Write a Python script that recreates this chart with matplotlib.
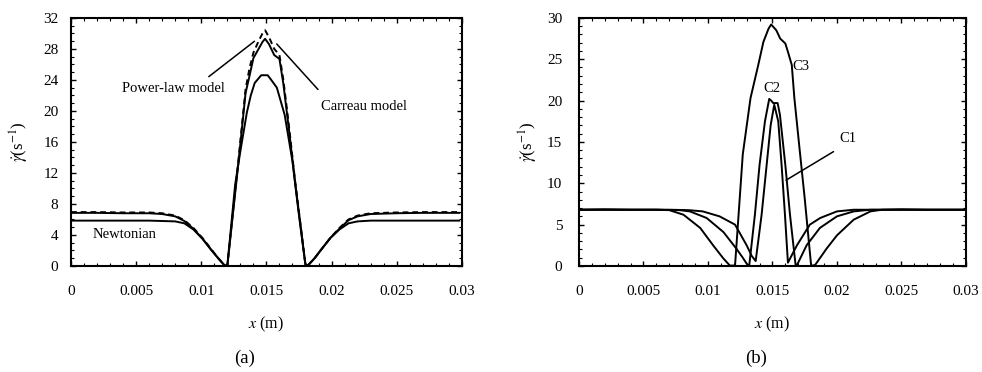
import numpy as np
import matplotlib
matplotlib.use('Agg')
import matplotlib.pyplot as plt
from matplotlib.ticker import MultipleLocator, FuncFormatter

plt.rcParams['font.family'] = ['Liberation Serif', 'DejaVu Serif']
plt.rcParams['mathtext.fontset'] = 'stix'

# ---- panel (a): three rheology models ----
a_x = [0, 0.002, 0.004, 0.006, 0.007, 0.008, 0.0087, 0.0094, 0.0101, 0.0108, 0.0113, 0.0118,
       0.0120, 0.0128, 0.0134, 0.0137, 0.0140, 0.0144, 0.0147, 0.0149, 0.0152, 0.0156, 0.0160,
       0.0163, 0.0167, 0.0172, 0.0176, 0.0180, 0.0182, 0.0187, 0.0192, 0.0199, 0.0206, 0.0213,
       0.0220, 0.0230, 0.0250, 0.0270, 0.0298]
powerlaw_y = [6.85, 6.85, 6.8, 6.8, 6.7, 6.4, 5.8, 4.8, 3.5, 2.0, 1.0, 0.05,
              0.05, 12.5, 22.3, 24.5, 26.8, 28.0, 28.9, 29.3, 28.6, 27.2, 26.7,
              23.5, 18.0, 10.8, 5.5, 0.1, 0.1, 1.0, 2.1, 3.6, 4.8, 5.9,
              6.4, 6.7, 6.8, 6.85, 6.85]
carreau_y = [6.95, 6.95, 6.9, 6.9, 6.8, 6.5, 5.9, 4.9, 3.6, 2.1, 1.0, 0.05,
             0.05, 12.8, 22.8, 25.5, 27.5, 29.0, 30.0, 30.4, 29.5, 28.0, 27.2,
             24.0, 18.5, 11.0, 5.6, 0.1, 0.1, 1.0, 2.1, 3.6, 4.9, 6.0,
             6.5, 6.8, 6.9, 6.95, 6.95]

newt_x = [0, 0.002, 0.004, 0.006, 0.007, 0.008, 0.0087, 0.0094, 0.0101, 0.0108, 0.0113, 0.0118,
          0.0120, 0.0126, 0.0130, 0.0135, 0.0138, 0.0141, 0.0146, 0.0151, 0.0155, 0.0158, 0.0164,
          0.0170, 0.0175, 0.0180, 0.0182, 0.0187, 0.0192, 0.0199, 0.0206, 0.0213, 0.0220, 0.0230,
          0.0250, 0.0270, 0.0298]
newt_y = [5.85, 5.85, 5.85, 5.85, 5.8, 5.75, 5.5, 4.7, 3.5, 2.0, 1.0, 0.05,
          0.05, 10.5, 14.8, 19.8, 22.0, 23.6, 24.6, 24.6, 23.7, 23.0, 19.5,
          13.5, 6.5, 0.1, 0.1, 1.0, 2.1, 3.6, 4.7, 5.5, 5.75, 5.85,
          5.85, 5.85, 5.85]

# ---- panel (b): cases C1, C2, C3 ----
c3_x = [0, 0.002, 0.004, 0.006, 0.007, 0.0081, 0.0094, 0.0104, 0.0112, 0.0117, 0.0121, 0.0127,
        0.0133, 0.0139, 0.0143, 0.0147, 0.0149, 0.0153, 0.0156, 0.0160, 0.0162, 0.0165, 0.0167,
        0.0171, 0.0175, 0.0180, 0.0183, 0.0192, 0.0200, 0.0213, 0.0226, 0.0235, 0.025, 0.027, 0.030]
c3_y = [6.8, 6.85, 6.8, 6.8, 6.75, 6.2, 4.6, 2.5, 0.9, 0.05, 0.05, 13.5,
        20.3, 24.3, 27.1, 28.7, 29.2, 28.5, 27.5, 26.9, 25.9, 24.3, 20.3,
        14.2, 8.2, 0.05, 0.1, 2.1, 3.7, 5.6, 6.6, 6.8, 6.85, 6.8, 6.8]

c2_x = [0, 0.003, 0.006, 0.0078, 0.0086, 0.0099, 0.0112, 0.0122, 0.0127, 0.0131, 0.0132, 0.01364,
        0.0140, 0.01442, 0.01475, 0.0149, 0.01506, 0.0154, 0.01558, 0.0160, 0.01636, 0.0168,
        0.0169, 0.01765, 0.01868, 0.0200, 0.0213, 0.0226, 0.024, 0.027, 0.030]
c2_y = [6.8, 6.8, 6.8, 6.75, 6.6, 5.8, 4.1, 2.1, 1.0, 0.05, 0.05, 6.2,
        12.2, 17.5, 20.2, 20.0, 19.7, 19.7, 18.3, 12.2, 6.2, 0.05,
        0.1, 2.5, 4.6, 6.0, 6.6, 6.8, 6.8, 6.8, 6.8]

c1_x = [0, 0.003, 0.006, 0.0071, 0.0085, 0.0096, 0.0109, 0.0121, 0.0130, 0.0134, 0.0137, 0.01416,
        0.01455, 0.01486, 0.01514, 0.01545, 0.01571, 0.01597, 0.0162, 0.0169, 0.0179, 0.0187,
        0.0200, 0.0213, 0.023, 0.027, 0.030]
c1_y = [6.8, 6.8, 6.8, 6.8, 6.75, 6.6, 6.0, 5.0, 2.5, 1.2, 0.6, 6.2,
        12.2, 17.0, 19.5, 17.5, 12.2, 6.2, 0.4, 2.5, 5.0, 5.8,
        6.6, 6.8, 6.8, 6.8, 6.8]

ylabel = r'$\dot{\gamma}$(s$^{-1}$)'
xlabel = r'$x$ (m)'


def style_axes(ax, ymax, ymajor, yminor):
    ax.set_xlim(0, 0.03)
    ax.set_ylim(0, ymax)
    ax.xaxis.set_major_locator(MultipleLocator(0.005))
    ax.xaxis.set_minor_locator(MultipleLocator(0.001))
    ax.yaxis.set_major_locator(MultipleLocator(ymajor))
    ax.yaxis.set_minor_locator(MultipleLocator(yminor))
    ax.xaxis.set_major_formatter(FuncFormatter(lambda v, p: '%g' % round(v, 4)))
    ax.tick_params(which='both', direction='in', top=True, right=True, labelsize=11)
    ax.tick_params(which='major', length=3.5, width=1)
    ax.tick_params(which='minor', length=2, width=0.8)
    ax.tick_params(axis='x', pad=14)
    for s in ax.spines.values():
        s.set_linewidth(1.5)
    ax.set_xlabel(xlabel, fontsize=11.5, labelpad=12)


fig = plt.figure(figsize=(9.82, 3.72), dpi=100)
ax1 = fig.add_axes([0.0723, 0.285, 0.398, 0.667])
ax2 = fig.add_axes([0.5896, 0.285, 0.394, 0.667])

lw = 1.4
ax1.plot(a_x, powerlaw_y, color='black', lw=lw)
ax1.plot(a_x, carreau_y, color='black', lw=lw, linestyle=(0, (3, 2)))
ax1.plot(newt_x, newt_y, color='black', lw=lw)
style_axes(ax1, 32, 4, 1)
ax1.tick_params(axis='y', pad=9)
ax1.set_ylabel(ylabel, fontsize=12, labelpad=9)

ax1.annotate('', xy=(0.01425, 29.2), xytext=(0.01041, 24.2),
             arrowprops=dict(arrowstyle='-', color='black', lw=1.1))
ax1.text(0.00786, 22.9, 'Power-law model', fontsize=10.5, ha='center', va='center')
ax1.annotate('', xy=(0.01565, 28.9), xytext=(0.0191, 22.5),
             arrowprops=dict(arrowstyle='-', color='black', lw=1.1))
ax1.text(0.02248, 20.6, 'Carreau model', fontsize=10.5, ha='center', va='center')
ax1.text(0.0041, 4.0, 'Newtonian', fontsize=10.5, ha='center', va='center')

ax2.plot(c3_x, c3_y, color='black', lw=lw)
ax2.plot(c2_x, c2_y, color='black', lw=lw)
ax2.plot(c1_x, c1_y, color='black', lw=lw)
style_axes(ax2, 30, 5, 1)
ax2.tick_params(axis='y', pad=12)
ax2.set_ylabel(ylabel, fontsize=12, labelpad=5)

ax2.text(0.01721, 24.1, 'C3', fontsize=10.5, ha='center', va='center')
ax2.text(0.01496, 21.4, 'C2', fontsize=10.5, ha='center', va='center')
ax2.text(0.02083, 15.4, 'C1', fontsize=10.5, ha='center', va='center')
ax2.annotate('', xy=(0.01587, 10.2), xytext=(0.01992, 14.0),
             arrowprops=dict(arrowstyle='-', color='black', lw=1.1))

fig.text(245 / 982, 1 - 358 / 372, '(a)', fontsize=13.5, ha='center', va='center')
fig.text(756 / 982, 1 - 358 / 372, '(b)', fontsize=13.5, ha='center', va='center')

fig.savefig('out.png', dpi=100)
